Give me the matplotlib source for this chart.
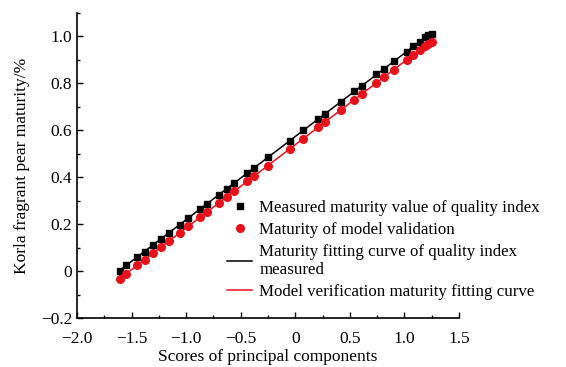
import matplotlib
matplotlib.use("Agg")
import matplotlib.pyplot as plt
from matplotlib.ticker import MultipleLocator
from matplotlib.lines import Line2D
import numpy as np

plt.rcParams['font.family'] = ['Liberation Serif', 'DejaVu Serif']

# principal component scores
scores = [-1.61, -1.55, -1.45, -1.38, -1.30, -1.23, -1.16, -1.06, -0.98, -0.87, -0.81,
          -0.70, -0.63, -0.56, -0.44, -0.38, -0.25, -0.05, 0.07, 0.21, 0.27, 0.42,
          0.54, 0.61, 0.74, 0.81, 0.90, 1.02, 1.08, 1.14, 1.19, 1.22, 1.25]
# measured maturity (quality index)
measured = [0.002, 0.024, 0.060, 0.083, 0.113, 0.138, 0.161, 0.198, 0.227, 0.264, 0.287,
            0.326, 0.349, 0.376, 0.417, 0.440, 0.485, 0.556, 0.600, 0.648, 0.671, 0.722,
            0.767, 0.790, 0.838, 0.861, 0.895, 0.935, 0.958, 0.978, 0.996, 1.005, 1.012]
# model validation maturity
validated = [-0.033, -0.011, 0.024, 0.049, 0.077, 0.103, 0.127, 0.163, 0.191, 0.230, 0.251,
             0.291, 0.315, 0.340, 0.383, 0.404, 0.450, 0.521, 0.564, 0.614, 0.635, 0.688,
             0.731, 0.756, 0.802, 0.827, 0.859, 0.901, 0.922, 0.944, 0.961, 0.970, 0.978]
xticklabels = ['\u22122.0', '\u22121.5', '\u22121.0', '\u22120.5', '0', '0.5', '1.0', '1.5']
yticklabels = ['\u22120.2', '0', '0.2', '0.4', '0.6', '0.8', '1.0']

x = np.array(scores)
k1, b1 = np.polyfit(x, measured, 1)
k2, b2 = np.polyfit(x, validated, 1)
xf = np.array([x.min(), x.max()])

red = '#e8101a'
fig = plt.figure(figsize=(5.66, 3.67), dpi=100)
ax = fig.add_axes([0.136, 0.1335, 0.675, 0.831])

ax.plot(xf, k1 * xf + b1, color='black', lw=1.1, zorder=2)
ax.plot(xf, k2 * xf + b2, color=red, lw=1.1, zorder=2)
ax.plot(x, measured, 's', color='black', ms=5, zorder=3)
ax.plot(x, validated, 'o', color=red, ms=5.5, zorder=3)

ax.set_xlim(-2.0, 1.5)
ax.set_ylim(-0.2, 1.1)
ax.set_xticks(np.arange(-2.0, 1.51, 0.5))
ax.set_xticklabels(xticklabels)
ax.set_yticks(np.arange(-0.2, 1.01, 0.2))
ax.set_yticklabels(yticklabels)
ax.xaxis.set_minor_locator(MultipleLocator(0.25))
ax.yaxis.set_minor_locator(MultipleLocator(0.1))
ax.tick_params(which='major', direction='in', length=4, width=1, labelsize=12.5)
ax.tick_params(which='minor', direction='in', length=2.5, width=1)
ax.tick_params(axis='x', which='major', pad=9)
for s in ['top', 'right']:
    ax.spines[s].set_visible(False)
for s in ['left', 'bottom']:
    ax.spines[s].set_linewidth(1.2)

ax.set_xlabel('Scores of principal components', fontsize=12.5, labelpad=2)
ax.set_ylabel('Korla fragrant pear maturity/%', fontsize=12.5, labelpad=8)

handles = [
    Line2D([], [], ls='none', marker='s', color='black', ms=5),
    Line2D([], [], ls='none', marker='o', color=red, ms=5.5),
    Line2D([], [], color='black', lw=1.1),
    Line2D([], [], color=red, lw=1.1),
]
labels = ['Measured maturity value of quality index',
          'Maturity of model validation',
          'Maturity fitting curve of quality index\nmeasured',
          'Model verification maturity fitting curve']
fig.legend(handles, labels, loc='upper left', bbox_to_anchor=(0.401, 0.455),
           frameon=False, fontsize=12.2, handlelength=1.5, handletextpad=0.4,
           labelspacing=0.35, borderpad=0, borderaxespad=0)

fig.savefig('out.png', dpi=100)
